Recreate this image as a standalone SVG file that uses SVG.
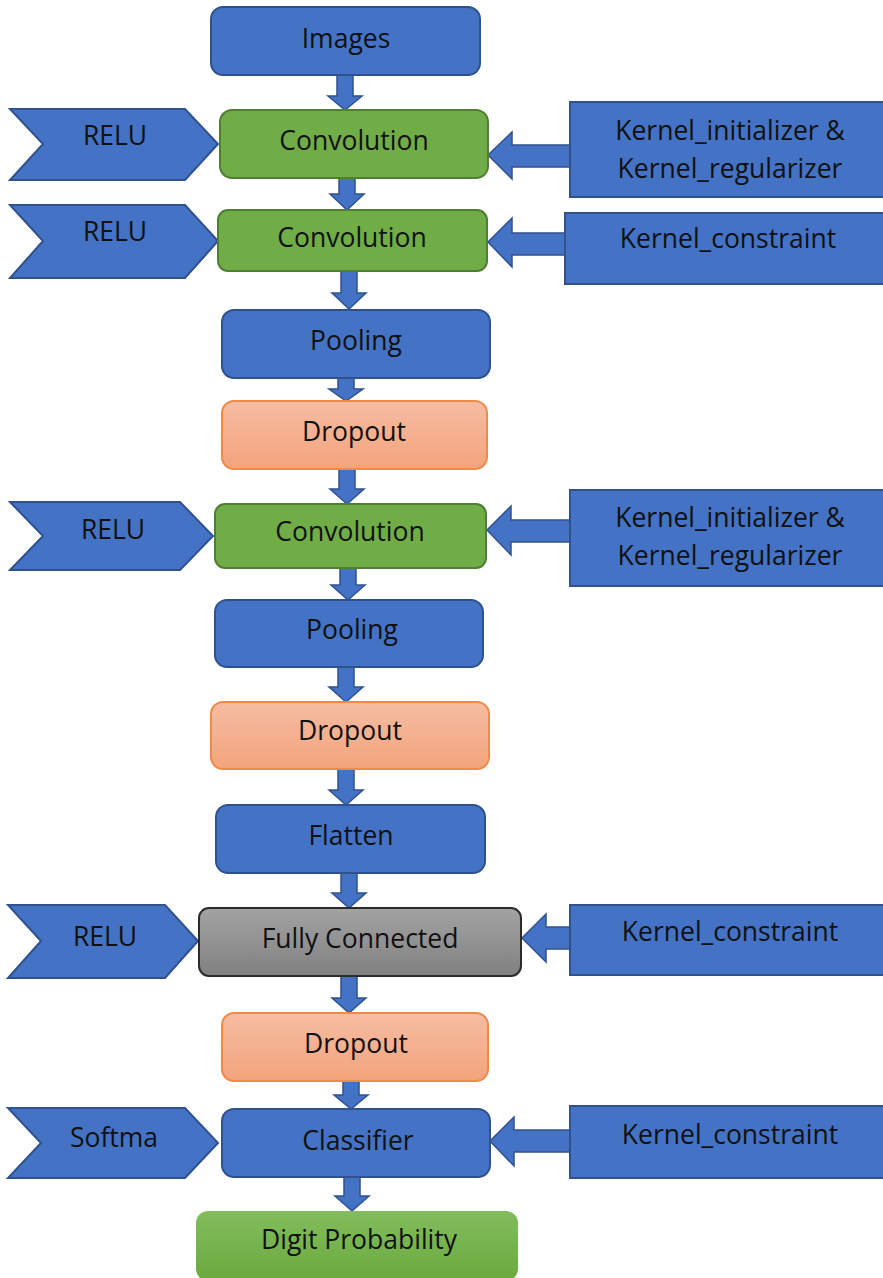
<svg xmlns="http://www.w3.org/2000/svg" width="883" height="1278" viewBox="0 0 883 1278">
<defs>
<linearGradient id="gOrange" x1="0" y1="0" x2="0" y2="1"><stop offset="0" stop-color="#F6BCA2"/><stop offset="1" stop-color="#F3A47C"/></linearGradient>
<linearGradient id="gGray" x1="0" y1="0" x2="0" y2="1"><stop offset="0" stop-color="#A3A3A3"/><stop offset="1" stop-color="#808080"/></linearGradient>
<linearGradient id="gGreen" x1="0" y1="0" x2="0" y2="1"><stop offset="0" stop-color="#82BC5C"/><stop offset="1" stop-color="#6AAA3E"/></linearGradient>
<style>
.blue{fill:#4472C4;stroke:#2F528F;stroke-width:2}
.green{fill:#70AD47;stroke:#507E32;stroke-width:2}
.orange{fill:url(#gOrange);stroke:#F08A48;stroke-width:2}
.gray{fill:url(#gGray);stroke:#2B2B2B;stroke-width:2}
.dgreen{fill:url(#gGreen);stroke:none}
.arr{fill:#4472C4;stroke:#2F528F;stroke-width:1.5}
text{font-family:"Open Sans","Liberation Sans",sans-serif;font-size:26.5px;fill:#111;text-anchor:middle;dominant-baseline:central}
</style>
</defs>

<g id="connectors">
<path class="arr" d="M337,75 H353 V96 H362 L345,110 L328,96 H337 Z"/>
<path class="arr" d="M339,178 H355 V194 H364 L347,210 L330,194 H339 Z"/>
<path class="arr" d="M341,271 H357 V293 H366 L349,309 L332,293 H341 Z"/>
<path class="arr" d="M338,378 H354 V389 H363 L346,401 L329,389 H338 Z"/>
<path class="arr" d="M339,469 H355 V489 H364 L347,504 L330,489 H339 Z"/>
<path class="arr" d="M340,568 H356 V585 H365 L348,600 L331,585 H340 Z"/>
<path class="arr" d="M338,667 H354 V687 H363 L346,702 L329,687 H338 Z"/>
<path class="arr" d="M338,769 H354 V790 H363 L346,805 L329,790 H338 Z"/>
<path class="arr" d="M341,873 H357 V893 H366 L349,908 L332,893 H341 Z"/>
<path class="arr" d="M341,976 H357 V998 H366 L349,1013 L332,998 H341 Z"/>
<path class="arr" d="M343,1081 H359 V1095 H368 L351,1109 L334,1095 H343 Z"/>
<path class="arr" d="M344,1177 H360 V1196 H369 L352,1211 L335,1196 H344 Z"/>
<path class="arr" d="M570,145 H512 V132 L488,155 L512,179 V167 H570 Z"/>
<path class="arr" d="M565,233 H512 V218 L488,242 L512,267 V255 H565 Z"/>
<path class="arr" d="M570,520 H511 V506 L487,530 L511,555 V542 H570 Z"/>
<path class="arr" d="M570,927 H546 V914 L522,938 L546,962 V949 H570 Z"/>
<path class="arr" d="M570,1130 H514 V1117 L490,1141 L514,1166 V1152 H570 Z"/>
</g>

<g id="images"><rect class="blue" x="211" y="7" width="269" height="68" rx="12"/><text x="346" y="38">Images</text></g>

<g id="relu1"><path class="blue" d="M10,109 H185 L218,144 L185,180 H10 L43,144 Z"/><text x="115" y="135">RELU</text></g>
<g id="conv1"><rect class="green" x="220" y="110" width="268" height="68" rx="12"/><text x="354" y="140">Convolution</text></g>
<g id="kernel1"><rect class="blue" x="570" y="102" width="320" height="95"/><text x="730" y="130">Kernel_initializer &amp;</text><text x="730" y="168">Kernel_regularizer</text></g>

<g id="relu2"><path class="blue" d="M10,205 H185 L218,241 L185,278 H10 L43,241 Z"/><text x="115" y="231">RELU</text></g>
<g id="conv2"><rect class="green" x="218" y="210" width="269" height="61" rx="10"/><text x="352" y="237">Convolution</text></g>
<g id="kernel2"><rect class="blue" x="565" y="213" width="325" height="71"/><text x="728" y="238">Kernel_constraint</text></g>

<g id="pool1"><rect class="blue" x="222" y="310" width="268" height="68" rx="12"/><text x="356" y="340">Pooling</text></g>
<g id="drop1"><rect class="orange" x="222" y="401" width="265" height="68" rx="12"/><text x="354" y="431">Dropout</text></g>

<g id="relu3"><path class="blue" d="M10,502 H180 L213,536 L180,570 H10 L43,536 Z"/><text x="113" y="529">RELU</text></g>
<g id="conv3"><rect class="green" x="215" y="504" width="271" height="64" rx="10"/><text x="350" y="531">Convolution</text></g>
<g id="kernel3"><rect class="blue" x="570" y="490" width="320" height="96"/><text x="730" y="517">Kernel_initializer &amp;</text><text x="730" y="555">Kernel_regularizer</text></g>

<g id="pool2"><rect class="blue" x="215" y="600" width="268" height="67" rx="12"/><text x="352" y="629">Pooling</text></g>
<g id="drop2"><rect class="orange" x="211" y="702" width="278" height="67" rx="12"/><text x="350" y="730">Dropout</text></g>
<g id="flatten"><rect class="blue" x="216" y="805" width="269" height="68" rx="12"/><text x="351" y="835">Flatten</text></g>

<g id="relu4"><path class="blue" d="M8,905 H165 L198,941 L165,978 H8 L41,941 Z"/><text x="105" y="936">RELU</text></g>
<g id="fc"><rect class="gray" x="199" y="908" width="322" height="68" rx="10"/><text x="360" y="938">Fully Connected</text></g>
<g id="kernel4"><rect class="blue" x="570" y="905" width="320" height="70"/><text x="730" y="931">Kernel_constraint</text></g>

<g id="drop3"><rect class="orange" x="222" y="1013" width="266" height="68" rx="12"/><text x="356" y="1043">Dropout</text></g>

<g id="softmax"><path class="blue" d="M8,1108 H185 L218,1143 L185,1178 H8 L41,1143 Z"/><text x="114" y="1137">Softma</text></g>
<g id="classifier"><rect class="blue" x="222" y="1109" width="268" height="68" rx="12"/><text x="358" y="1140">Classifier</text></g>
<g id="kernel5"><rect class="blue" x="570" y="1106" width="320" height="72"/><text x="730" y="1134">Kernel_constraint</text></g>

<g id="digit"><rect class="dgreen" x="196" y="1211" width="322" height="70" rx="12"/><text x="359" y="1239">Digit Probability</text></g>
</svg>
